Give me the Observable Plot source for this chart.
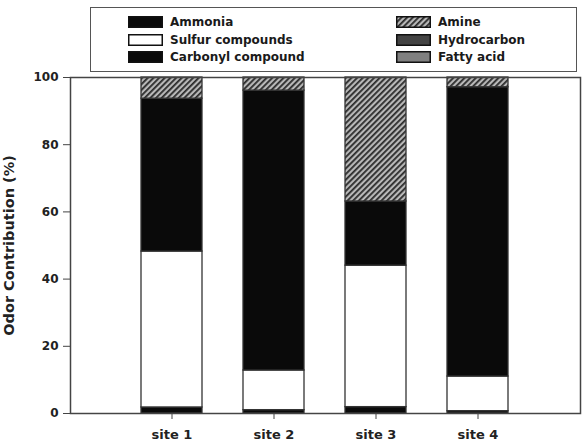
<!DOCTYPE html>
<html>
<head>
<meta charset="utf-8">
<script src="https://cdn.jsdelivr.net/npm/d3@7"></script>
<script src="https://cdn.jsdelivr.net/npm/@observablehq/plot@0.6"></script>
<style>
  body { margin: 0; background: #fff; }
  #wrap { width: 584px; height: 441px; position: relative; overflow: hidden; }
  #legend { position: relative; height: 66px; z-index: 1; }
  #legend .box { position: absolute; left: 90px; top: 7px; width: 487px; height: 65px; box-sizing: border-box; border: 1.5px solid #555; }
  #legend .item { position: absolute; height: 14px; font-family: "DejaVu Sans", sans-serif; font-weight: bold; font-size: 12px; color: #1a1a1a; line-height: 14px; white-space: nowrap; }
  #legend .item svg { position: absolute; left: 0; top: 1px; }
  #legend .item span { position: absolute; top: 0; }
  svg text { font-family: "DejaVu Sans", sans-serif; }
</style>
</head>
<body>
<div id="wrap">
  <div id="legend"><div class="box"></div></div>
  <div id="chart"></div>
</div>
<script>
const sites = ["site 1", "site 2", "site 3", "site 4"];
const categories = ["Ammonia", "Sulfur compounds", "Carbonyl compound", "Amine", "Hydrocarbon", "Fatty acid"];
const ammonia = [1.8, 1.0, 1.9, 0.7];
const sulfur = [46.4, 11.8, 42.1, 10.3];
const carbonyl = [45.5, 83.3, 19.1, 86.1];
const amine = [6.3, 3.9, 36.9, 2.9];
const hydrocarbon = [0, 0, 0, 0];
const fattyAcid = [0, 0, 0, 0];
const yTicks = [0, 20, 40, 60, 80, 100];
const fills = ["#0a0a0a", "#ffffff", "#0a0a0a", "url(#hatch)", "#444444", "#808080"];

const series = [ammonia, sulfur, carbonyl, amine, hydrocarbon, fattyAcid];
const data = [];
sites.forEach((s, i) => {
  categories.forEach((c, k) => {
    data.push({site: s, category: c, value: series[k][i]});
  });
});

const chart = Plot.plot({
  width: 584,
  height: 375,
  marginTop: 11,
  marginBottom: 28,
  marginLeft: 70,
  marginRight: 4,
  style: {fontFamily: "DejaVu Sans", fontWeight: "bold", color: "#222", background: "#fff"},
  x: {domain: sites, type: "band", paddingInner: 0.4, paddingOuter: 0.7},
  y: {domain: [0, 100]},
  color: {type: "ordinal", domain: categories, range: fills},
  marks: [
    Plot.barY(data.filter(d => d.value > 0), {
      x: "site", y: "value", fill: "category",
      stroke: "#333", strokeWidth: 1.3, inset: 0
    }),
    Plot.frame({stroke: "#444", strokeWidth: 1.5}),
    Plot.axisX({fontSize: 13, tickSize: 6, tickPadding: 10, label: null, stroke: "#444"}),
    Plot.axisY({ticks: yTicks, fontSize: 12, tickSize: 7, tickPadding: 5, stroke: "#444",
      label: "Odor Contribution (%)", labelAnchor: "center", labelArrow: "none", labelOffset: 67})
  ]
});

const ns = "http://www.w3.org/2000/svg";
const defs = document.createElementNS(ns, "defs");
defs.innerHTML = '<pattern id="hatch" patternUnits="userSpaceOnUse" width="4" height="4" patternTransform="rotate(45)">' +
  '<rect width="4" height="4" fill="#b8b8b8"></rect><rect width="1.8" height="4" fill="#2a2a2a"></rect></pattern>';
chart.insertBefore(defs, chart.firstChild);
d3.select(chart).selectAll('[aria-label="y-axis label"]').attr("font-size", 14.5);
document.getElementById("chart").appendChild(chart);

// legend
const box = document.querySelector("#legend .box");
const pos = [
  {x: 37, y: 7}, {x: 305, y: 7},
  {x: 37, y: 25}, {x: 305, y: 25},
  {x: 37, y: 42}, {x: 305, y: 42}
];
const legendOrder = ["Ammonia", "Amine", "Sulfur compounds", "Hydrocarbon", "Carbonyl compound", "Fatty acid"];
legendOrder.forEach((c, i) => {
  const it = document.createElement("div");
  it.className = "item";
  it.style.left = pos[i].x + "px";
  it.style.top = pos[i].y + "px";
  const f = fills[categories.indexOf(c)];
  it.innerHTML = '<svg width="35" height="12"><rect x="0.75" y="0.75" width="33.5" height="10.5" fill="' + f + '" stroke="#111" stroke-width="1.5"></rect></svg>' +
    '<span style="left:42px">' + c + '</span>';
  box.appendChild(it);
});
</script>
</body>
</html>
